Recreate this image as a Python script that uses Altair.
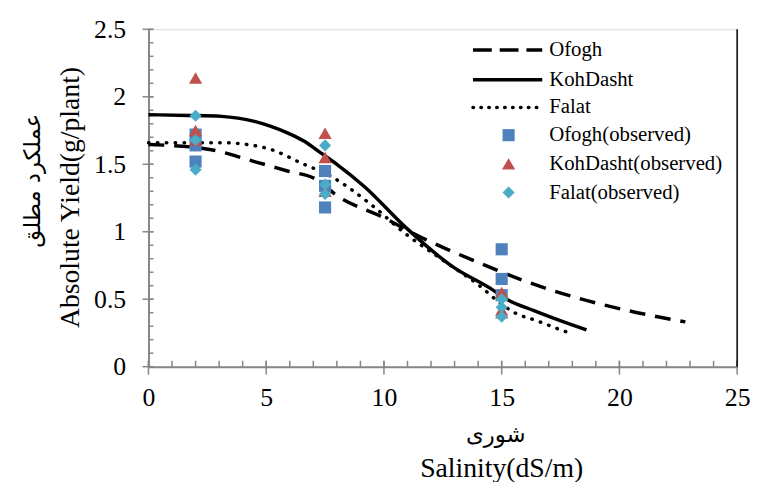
import altair as alt
import pandas as pd

# ---------------- data ----------------
koh_x = [0, 1.7, 3.1, 3.8, 4.5, 5.2, 5.9, 6.6, 7.3, 8.0, 9.2, 10.9, 12.9, 14.7, 15.1, 16.4, 17.9, 18.6]
koh_y = [1.867, 1.862, 1.855, 1.842, 1.818, 1.781, 1.733, 1.672, 1.586, 1.50, 1.33, 1.036, 0.743, 0.56, 0.511, 0.413, 0.315, 0.273]

ofo_x = [0, 2.6, 4.5, 5.9, 7.1, 8.1, 9.8, 11.8, 13.9, 15.9, 18.2, 20.3, 22.8]
ofo_y = [1.647, 1.61, 1.52, 1.45, 1.39, 1.256, 1.12, 0.94, 0.78, 0.64, 0.51, 0.418, 0.332]

fal_x = [0, 3.1, 5.0, 6.6, 7.7, 9.5, 10.9, 12.5, 14.2, 14.8, 15.55, 16.5, 17.4, 18.0]
fal_y = [1.66, 1.66, 1.62, 1.50, 1.415, 1.195, 0.987, 0.79, 0.58, 0.49, 0.40, 0.34, 0.28, 0.242]

obs_x = [2, 2, 2, 7.5, 7.5, 7.5, 15, 15, 15]
ofo_obs = [1.72, 1.64, 1.52, 1.45, 1.34, 1.18, 0.87, 0.65, 0.53]
koh_obs = [2.14, 1.75, 1.68, 1.73, 1.55, 1.30, 0.55, 0.42, 0.40]
fal_obs = [1.86, 1.68, 1.46, 1.64, 1.35, 1.28, 0.50, 0.44, 0.37]

x_ticks = [0, 5, 10, 15, 20, 25]
y_ticks = [0, 0.5, 1, 1.5, 2, 2.5]
x_minor = list(range(0, 26))
y_minor = [round(i * 0.1, 1) for i in range(0, 26)]

legend_labels = ["Ofogh", "KohDasht", "Falat", "Ofogh(observed)", "KohDasht(observed)", "Falat(observed)"]
x_title = "Salinity(dS/m)"
x_title_fa = "شوری"
y_title = "Absolute Yield(g/plant)"
y_title_fa = "عملکرد مطلق"

# ---------------- style ----------------
W, H = 595, 341
FONT = "Liberation Serif, Times New Roman, DejaVu Serif, serif"
FA_FONT = "DejaVu Sans, Noto Sans, sans-serif"
GRAY = "#868686"
C_BLUE, C_RED, C_AQUA = "#4F81BD", "#C0504D", "#4BACC6"
LW = 3.5

xs = alt.Scale(domain=[0, 25], nice=False, zero=False)
ys = alt.Scale(domain=[0, 2.5], nice=False, zero=False)
xaxis = alt.Axis(values=x_ticks, ticks=False, grid=False, title=None,
                 domainColor=GRAY, domainWidth=2, labelFont=FONT, labelFontSize=26,
                 labelColor="black", labelPadding=18, labelFlush=False, labelOverlap=False)
yaxis = alt.Axis(values=y_ticks, ticks=False, grid=False, title=None,
                 domainColor=GRAY, domainWidth=2, labelFont=FONT, labelFontSize=26,
                 labelColor="black", labelPadding=23, labelOverlap=False,
                 labelExpr="datum.value == 0 ? '0' : format(datum.value, '~g')")

X = lambda f="x": alt.X(f + ":Q", scale=xs, axis=xaxis)
Y = lambda f="y": alt.Y(f + ":Q", scale=ys, axis=yaxis)

def curve(xv, yv, dash):
    df = pd.DataFrame({"x": xv, "y": yv})
    kw = dict(color="black", strokeWidth=LW, interpolate="monotone")
    if dash:
        kw["strokeDash"] = dash
        kw["strokeCap"] = "round" if dash[0] < 2 else "butt"
    return alt.Chart(df).mark_line(**kw).encode(x=X(), y=Y(), order="x:Q")

def pts(yv, shape, color, size):
    df = pd.DataFrame({"x": obs_x, "y": yv})
    return alt.Chart(df).mark_point(shape=shape, filled=True, opacity=1, color=color,
                                    size=size, strokeWidth=0).encode(x=X(), y=Y())

l_ofo = curve(ofo_x, ofo_y, [16, 10])
l_koh = curve(koh_x, koh_y, None)
l_fal = curve(fal_x, fal_y, [0.5, 8.5])

p_ofo = pts(ofo_obs, "square", C_BLUE, 150)
p_koh = pts(koh_obs, "triangle-up", C_RED, 180)
p_fal = pts(fal_obs, "diamond", C_AQUA, 150)

# minor / major ticks drawn as rules through the scales
ymin_df = pd.DataFrame({"y": y_minor})
ymaj_df = pd.DataFrame({"y": y_ticks})
xmin_df = pd.DataFrame({"x": x_minor})
xmaj_df = pd.DataFrame({"x": x_ticks})
t_ymin = alt.Chart(ymin_df).mark_rule(color=GRAY, strokeWidth=1.5).encode(
    y=Y(), x=alt.value(0), x2=alt.value(5))
t_ymaj = alt.Chart(ymaj_df).mark_rule(color=GRAY, strokeWidth=1.5).encode(
    y=Y(), x=alt.value(-6), x2=alt.value(5))
t_xmin = alt.Chart(xmin_df).mark_rule(color=GRAY, strokeWidth=1.5).encode(
    x=X(), y=alt.value(H - 6), y2=alt.value(H))
t_xmaj = alt.Chart(xmaj_df).mark_rule(color=GRAY, strokeWidth=1.5).encode(
    x=X(), y=alt.value(H - 6), y2=alt.value(H + 8))

# right frame line
frame = alt.Chart(pd.DataFrame({"x": [x_ticks[-1]], "y": [y_ticks[0]], "y2": [y_ticks[-1]]})).mark_rule(
    color="black", strokeWidth=1.5).encode(x=X(), y=Y(), y2="y2:Q")

# ---------------- legend ----------------
row_y = [21, 51, 79, 107, 136, 165]
LX0, LX1, LSYM, LTXT = 328, 398, 364, 405
leg = []
for i, dash in enumerate([[19, 8], None, [0.5, 7.5]]):
    kw = dict(color="black", strokeWidth=LW)
    if dash:
        kw["strokeDash"] = dash
        kw["strokeCap"] = "round" if dash[0] < 2 else "butt"
    leg.append(alt.Chart(pd.DataFrame({"a": [0]})).mark_rule(**kw).encode(
        x=alt.value(LX0), x2=alt.value(LX1), y=alt.value(row_y[i])))
for i, (shape, col, sz) in enumerate([("square", C_BLUE, 150), ("triangle-up", C_RED, 180), ("diamond", C_AQUA, 150)]):
    leg.append(alt.Chart(pd.DataFrame({"a": [0]})).mark_point(
        shape=shape, filled=True, opacity=1, color=col, size=sz, strokeWidth=0).encode(
        x=alt.value(LSYM), y=alt.value(row_y[3 + i])))
for i, lab in enumerate(legend_labels):
    leg.append(alt.Chart(pd.DataFrame({"a": [0]})).mark_text(
        text=lab, font=FONT, fontSize=21, align="left", baseline="middle", color="black").encode(
        x=alt.value(LTXT), y=alt.value(row_y[i])))

# ---------------- axis titles ----------------
def label(txt, x, y, size, font, angle=0):
    kw = dict(text=txt, font=font, fontSize=size, align="center", baseline="middle", color="black")
    if angle:
        kw["angle"] = angle
    return alt.Chart(pd.DataFrame({"a": [0]})).mark_text(**kw).encode(
        x=alt.value(x), y=alt.value(y))

titles = [
    label(y_title, -78, 170, 28, FONT, 270),
    label(y_title_fa, -117, 153, 23, FA_FONT, 270),
    label(x_title_fa, 351, 410, 23, FA_FONT),
    label(x_title, 357, 445, 28, FONT),
]

chart = alt.layer(
    t_ymin, t_ymaj, t_xmin, t_xmaj, frame,
    l_ofo, l_koh, l_fal,
    p_ofo, p_koh, p_fal,
    *leg, *titles
).properties(
    width=W, height=H,
    autosize=alt.AutoSizeParams(type="none"),
    padding={"left": 142, "top": 19, "right": 13, "bottom": 114},
).configure_view(stroke=None).configure(background="white")

chart.save("out.html", embed_options={"renderer": "svg", "actions": False})
